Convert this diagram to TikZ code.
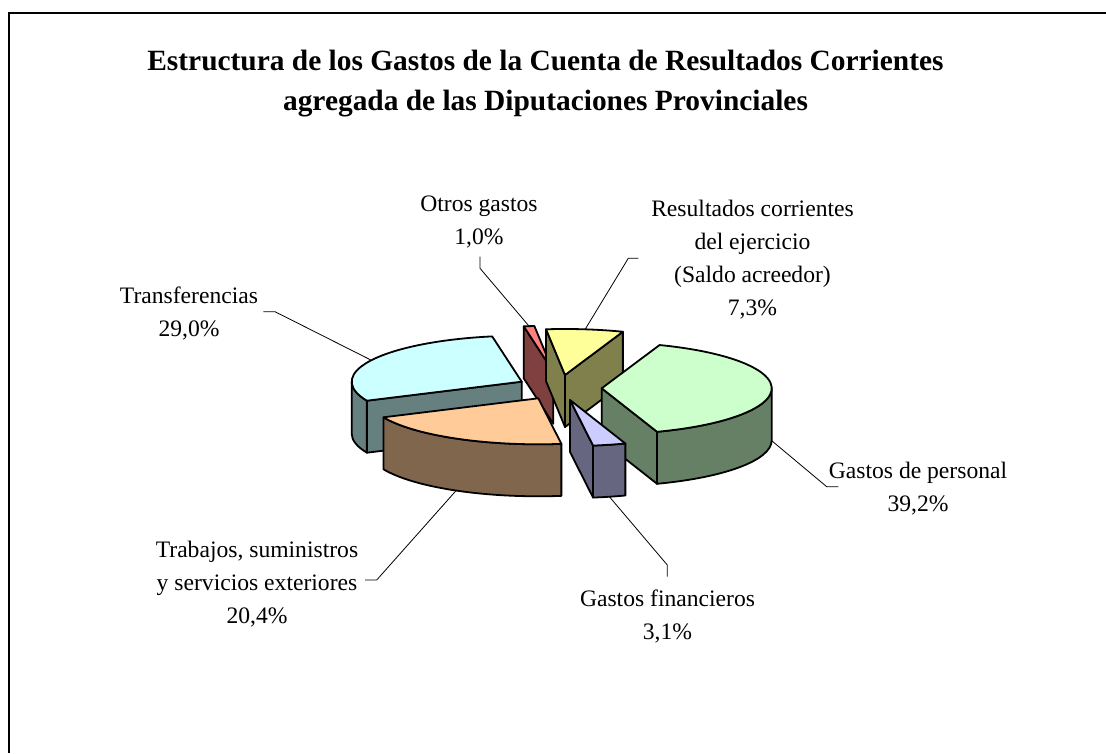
\documentclass[tikz,border=0pt]{standalone}
\usepackage{fontspec}
\setmainfont{Liberation Serif}
\usetikzlibrary{calc}
\definecolor{gtop}{HTML}{CCFFCC}\definecolor{gside}{HTML}{668066}
\definecolor{ctop}{HTML}{CCFFFF}\definecolor{cside}{HTML}{668080}
\definecolor{otop}{HTML}{FFCC99}\definecolor{oside}{HTML}{80664D}
\definecolor{btop}{HTML}{CCCCFF}\definecolor{bside}{HTML}{666680}
\definecolor{ytop}{HTML}{FFFF99}\definecolor{yside}{HTML}{80804D}
\definecolor{rtop}{HTML}{FF8080}\definecolor{rside}{HTML}{804040}
\def\pdep{52pt}
\newcommand\stk[1]{\vtop{\halign{\hfil##\hfil\cr#1\crcr}}}
\newcommand\sidebox[3]{\filldraw[face,fill=#3] (#1) -- ($(#1)+(#2:170pt and 46pt)$) -- ++(0,-\pdep) -- ($(#1)+(0,-\pdep)$) -- cycle;}
\newcommand\outerface[4]{\filldraw[face,fill=#4] ($(#1)+(#2:170pt and 46pt)$) arc[start angle=#2,end angle=#3,x radius=170pt,y radius=46pt] -- ++(0,-\pdep) arc[start angle=#3,end angle=#2,x radius=170pt,y radius=46pt] -- cycle;}
\newcommand\topface[4]{\filldraw[face,fill=#4] (#1) -- ($(#1)+(#2:170pt and 46pt)$) arc[start angle=#2,end angle=#3,x radius=170pt,y radius=46pt] -- cycle;}
\begin{document}
\begin{tikzpicture}[x=1pt,y=1pt,
  face/.style={draw=black,line width=1.8pt,line join=round},
  leader/.style={draw=black,line width=0.8pt},
  lbl/.style={anchor=base,inner sep=0pt,font=\fontsize{23.6}{33}\selectfont},
  ttl/.style={anchor=base,inner sep=0pt,font=\bfseries\fontsize{29.4}{40}\selectfont},
  frame/.style={draw=black,line width=2pt}]
\fill[white] (0,0) rectangle (1106,753);
\useasboundingbox (0,0) rectangle (1106,753);
\draw[frame] (8.5,0) -- (8.5,740) -- (1106,740);
% title
\node[ttl] (title) at (545.5,682) {\stk{Estructura de los Gastos de la Cuenta de Resultados Corrientes\cr agregada de las Diputaciones Provinciales}};
% apexes
\coordinate (G) at (601.7,364.7);
\coordinate (B) at (570,353);
\coordinate (O) at (538.3,354.7);
\coordinate (C) at (521.7,371.3);
\coordinate (R) at (553.3,381.3);
\coordinate (Yl) at (565,378);
% red: Otros gastos
\sidebox{R}{100}{rside}
\topface{R}{96.4}{100}{rtop}
% yellow: Resultados
\sidebox{Yl}{96.4}{yside}
\sidebox{Yl}{70.1}{yside}
\topface{Yl}{70.1}{96.4}{ytop}
% cyan: Transferencias
\sidebox{C}{204.4}{cside}
\outerface{C}{180}{204.4}{cside}
\topface{C}{100}{204.4}{ctop}
% green: Gastos de personal
\sidebox{G}{-71}{gside}
\outerface{G}{-71}{0}{gside}
\topface{G}{-71}{70.1}{gtop}
% orange: Trabajos
\outerface{O}{-155.6}{-82.2}{oside}
\topface{O}{-155.6}{-82.2}{otop}
% blue: Gastos financieros
\sidebox{B}{-82.2}{bside}
\outerface{B}{-82.2}{-71}{bside}
\topface{B}{-82.2}{-71}{btop}
% label anchors on slices
\coordinate (eR) at ($(R)+(98.2:170pt and 46pt)$);
\coordinate (eY) at ($(Yl)+(83.2:170pt and 46pt)$);
\coordinate (eC) at ($(C)+(152.2:170pt and 46pt)$);
\coordinate (eO) at ($(O)+(-118.9:170pt and 46pt)+(0,-\pdep)$);
\coordinate (eB) at ($(B)+(-76.6:170pt and 46pt)+(0,-\pdep)$);
\coordinate (eG) at ($(G)+(-0.5:170pt and 46pt)+(0,-\pdep)$);
% labels
\node[lbl] (lR) at (479,541.3) {\stk{Otros gastos\cr 1,0\%}};
\node[lbl] (lY) at (752.5,536) {\stk{Resultados corrientes\cr del ejercicio\cr (Saldo acreedor)\cr 7,3\%}};
\node[lbl] (lC) at (189,449.7) {\stk{Transferencias\cr 29,0\%}};
\node[lbl] (lO) at (257,195.7) {\stk{Trabajos, suministros\cr y servicios exteriores\cr 20,4\%}};
\node[lbl] (lB) at (667.5,146.3) {\stk{Gastos financieros\cr 3,1\%}};
\node[lbl] (lG) at (918,274.7) {\stk{Gastos de personal\cr 39,2\%}};
% leader start points
\coordinate (sR) at (480,496.3);
\coordinate (sY) at (638.3,494.7);
\coordinate (sC) at (263.3,441.3);
\coordinate (sO) at (365,173);
\coordinate (sB) at (667.3,176.3);
\coordinate (sG) at (838.3,266.3);
\draw[leader] (sR) -- ++(0,-11.6) -- (eR);
\draw[leader] (sY) -- ++(-10,0) -- (eY);
\draw[leader] (sC) -- ++(11.7,0) -- (eC);
\draw[leader] (sO) -- ++(11.7,0) -- (eO);
\draw[leader] (sB) -- ++(0,11.7) -- (eB);
\draw[leader] (sG) -- ++(-11.6,0) -- (eG);
\end{tikzpicture}
\end{document}
